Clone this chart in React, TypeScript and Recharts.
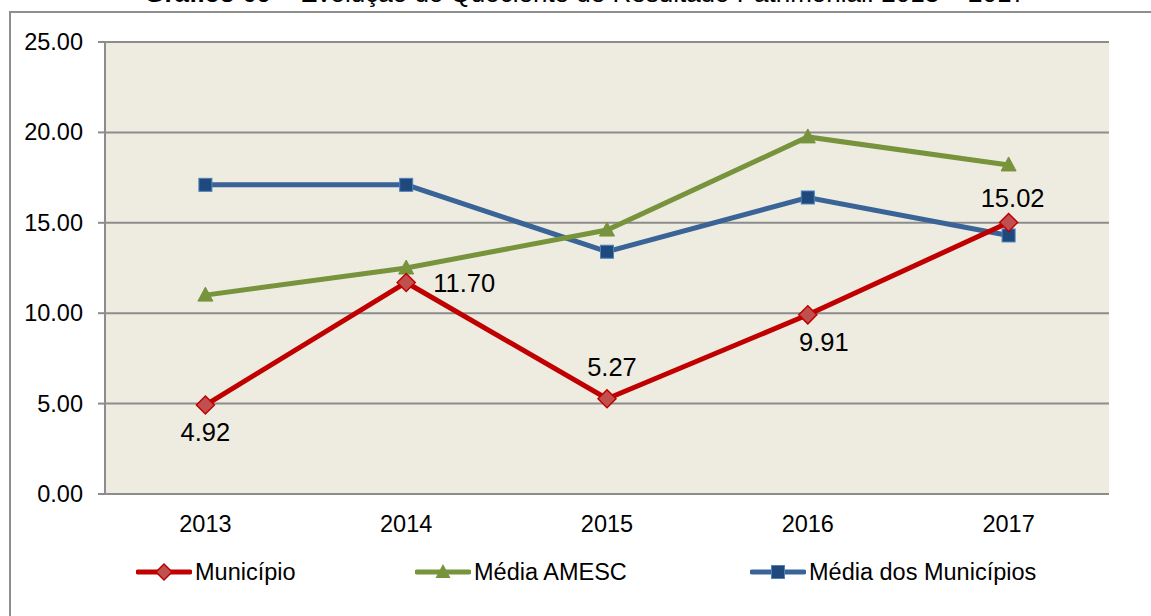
import { LineChart, Line, XAxis, YAxis, CartesianGrid, LabelList } from 'recharts';

const years = ['2013', '2014', '2015', '2016', '2017'];
const municipio = [4.92, 11.7, 5.27, 9.91, 15.02];
const mediaAmesc = [11.0, 12.5, 14.6, 19.75, 18.2];
const mediaMunicipios = [17.1, 17.1, 13.4, 16.4, 14.3];
const yTicks = [0, 5, 10, 15, 20, 25];

// where each Município label sits relative to its point (Excel placed them by hand)
const labelOffsets = [
  { dx: 0, dy: 36, anchor: 'middle' },
  { dx: 27, dy: 10, anchor: 'start' },
  { dx: 5, dy: -23, anchor: 'middle' },
  { dx: 16, dy: 36, anchor: 'middle' },
  { dx: 4, dy: -15, anchor: 'middle' },
];

const colors = {
  red: '#C00000',
  redFill: '#C0504D',
  green: '#77933C',
  blue: '#3A6497',
  blueFill: '#1F497D',
  blueEdge: '#4F81BD',
  grid: '#8C8C8C',
  plot: '#EEECE1',
  border: '#8E8E8E',
};

const font = '"Liberation Sans", Arial, sans-serif';

const chartData = years.map((year, i) => ({
  year,
  municipio: municipio[i],
  mediaAmesc: mediaAmesc[i],
  mediaMunicipios: mediaMunicipios[i],
}));

function diamond(cx: number, cy: number, r = 9) {
  return `M${cx},${cy - r} L${cx + r},${cy} L${cx},${cy + r} L${cx - r},${cy} Z`;
}

function triangle(cx: number, cy: number) {
  return `M${cx},${cy - 8} L${cx + 7.5},${cy + 6} L${cx - 7.5},${cy + 6} Z`;
}

const DiamondDot = (props: any) => {
  const { cx, cy, index } = props;
  if (cx == null || cy == null) return <g key={`d-${index}`} />;
  return <path key={`d-${index}`} d={diamond(cx, cy)} fill={colors.redFill} stroke={colors.red} strokeWidth={1.5} />;
};

const TriangleDot = (props: any) => {
  const { cx, cy, index } = props;
  if (cx == null || cy == null) return <g key={`t-${index}`} />;
  return <path key={`t-${index}`} d={triangle(cx, cy)} fill={colors.green} stroke={colors.green} strokeWidth={1} />;
};

const SquareDot = (props: any) => {
  const { cx, cy, index } = props;
  if (cx == null || cy == null) return <g key={`s-${index}`} />;
  return (
    <rect key={`s-${index}`} x={cx - 6.5} y={cy - 6.5} width={13} height={13}
      fill={colors.blueFill} stroke={colors.blueEdge} strokeWidth={1} />
  );
};

const YTick = ({ x, y, payload }: any) => (
  <text x={x} y={y + 8} textAnchor="end" fontSize={23.5} fontFamily={font} fill="#000">
    {Number(payload.value).toFixed(2)}
  </text>
);

const XTick = ({ x, y, payload }: any) => (
  <text x={x} y={y + 38} textAnchor="middle" fontSize={23.5} fontFamily={font} fill="#000">
    {payload.value}
  </text>
);

const MunicipioLabel = (props: any) => {
  const { x, y, value, index } = props;
  const o = labelOffsets[index] ?? { dx: 0, dy: -15, anchor: 'middle' };
  return (
    <text x={x + o.dx} y={y + o.dy} textAnchor={o.anchor} fontSize={25.5} fontFamily={font} fill="#000">
      {Number(value).toFixed(2)}
    </text>
  );
};

const legendItems = [
  { name: 'Município', color: colors.red, marker: 'diamond', left: 136 },
  { name: 'Média AMESC', color: colors.green, marker: 'triangle', left: 415 },
  { name: 'Média dos Municípios', color: colors.blue, marker: 'square', left: 750 },
];

function LegendMarker({ color, marker }: { color: string; marker: string }) {
  return (
    <svg width={56} height={20} style={{ display: 'block' }}>
      <line x1={2} y1={10} x2={54} y2={10} stroke={color} strokeWidth={5} strokeLinecap="round" />
      {marker === 'diamond' && <path d={diamond(28, 10, 8)} fill={colors.redFill} stroke={colors.red} strokeWidth={1.5} />}
      {marker === 'triangle' && <path d={triangle(28, 10)} fill={colors.green} />}
      {marker === 'square' && (
        <rect x={21.5} y={3.5} width={13} height={13} fill={colors.blueFill} stroke={colors.blueEdge} strokeWidth={1} />
      )}
    </svg>
  );
}

export default function App() {
  return (
    <div style={{ position: 'absolute', left: 0, top: 0, width: 1151, height: 616, overflow: 'hidden', background: '#fff', fontFamily: font }}>
      <div style={{ position: 'absolute', left: 0, width: 1170, textAlign: 'center', top: -22, fontSize: 26, lineHeight: '30px', whiteSpace: 'nowrap', color: '#000' }}>
        <b>Gráfico 09</b> – Evolução do Quociente de Resultado Patrimonial: 2013 – 2017
      </div>
      <div style={{ position: 'absolute', left: 9, top: 11, width: 1300, height: 800, border: `2px solid ${colors.border}`, boxSizing: 'border-box' }} />
      <div style={{ position: 'absolute', left: 0, top: 0 }}>
        <LineChart width={1151} height={616} data={chartData} margin={{ top: 42, right: 42, bottom: 92, left: 0 }}>
          <CartesianGrid vertical={false} fill={colors.plot} stroke={colors.grid} strokeWidth={2} />
          <XAxis
            dataKey="year"
            scale="band"
            height={30}
            tickLine={false}
            tickSize={0}
            tickMargin={0}
            axisLine={{ stroke: colors.grid, strokeWidth: 2 }}
            tick={<XTick />}
          />
          <YAxis
            width={105}
            domain={[0, 25]}
            ticks={yTicks}
            interval={0}
            tickSize={7}
            tickMargin={15}
            axisLine={{ stroke: colors.grid, strokeWidth: 2 }}
            tickLine={{ stroke: colors.grid, strokeWidth: 2 }}
            tick={<YTick />}
          />
          <Line
            dataKey="mediaMunicipios"
            stroke={colors.blue}
            strokeWidth={5}
            dot={SquareDot}
            activeDot={false}
            isAnimationActive={false}
          />
          <Line
            dataKey="mediaAmesc"
            stroke={colors.green}
            strokeWidth={5}
            dot={TriangleDot}
            activeDot={false}
            isAnimationActive={false}
          />
          <Line
            dataKey="municipio"
            stroke={colors.red}
            strokeWidth={5}
            dot={DiamondDot}
            activeDot={false}
            isAnimationActive={false}
          >
            <LabelList dataKey="municipio" content={MunicipioLabel} />
          </Line>
        </LineChart>
      </div>
      {legendItems.map((item) => (
        <div key={item.name} style={{ position: 'absolute', left: item.left, top: 560, display: 'flex', alignItems: 'center', gap: 3, fontSize: 23.5, color: '#000', whiteSpace: 'nowrap' }}>
          <LegendMarker color={item.color} marker={item.marker} />
          <span style={{ lineHeight: '24px' }}>{item.name}</span>
        </div>
      ))}
    </div>
  );
}
